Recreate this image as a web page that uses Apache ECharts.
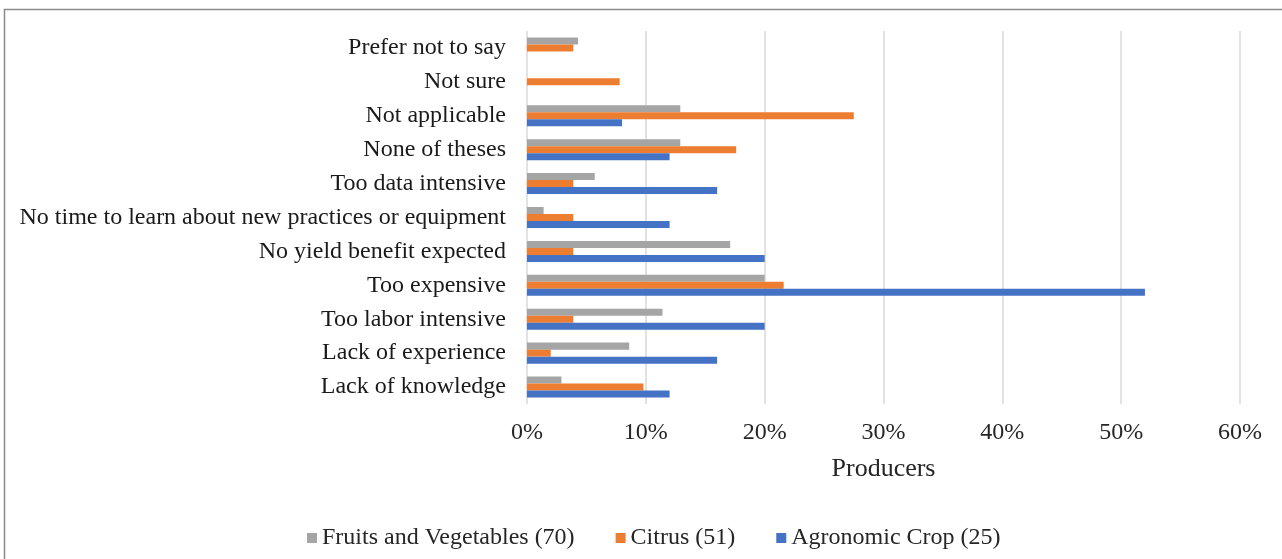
<!DOCTYPE html>
<html>
<head>
<meta charset="utf-8">
<script src="https://cdn.jsdelivr.net/npm/echarts@6/dist/echarts.min.js"></script>
<style>
  html, body { margin: 0; padding: 0; background: #fff; }
  #chart { width: 1282px; height: 559px; }
</style>
</head>
<body>
<div id="chart"></div>
<script>
// Reasons for not adopting, listed top to bottom
const categories = [
  'Prefer not to say',
  'Not sure',
  'Not applicable',
  'None of theses',
  'Too data intensive',
  'No time to learn about new practices or equipment',
  'No yield benefit expected',
  'Too expensive',
  'Too labor intensive',
  'Lack of experience',
  'Lack of knowledge'
];

// Share of producers (%) per group, same order as categories
const fruitsVegetables = [4.3, 0, 12.9, 12.9, 5.7, 1.4, 17.1, 20.0, 11.4, 8.6, 2.9];
const citrus           = [3.9, 7.8, 27.5, 17.6, 3.9, 3.9, 3.9, 21.6, 3.9, 2.0, 9.8];
const agronomicCrop    = [0, 0, 8, 12, 16, 12, 20, 52, 20, 16, 12];

const seriesNames = ['Fruits and Vegetables (70)', 'Citrus (51)', 'Agronomic Crop (25)'];
const xTicks = [0, 10, 20, 30, 40, 50, 60];

const FONT = '"Liberation Serif", "Times New Roman", serif';
const colors = ['#A5A5A5', '#ED7D31', '#4472C4'];

const chart = echarts.init(document.getElementById('chart'), null, { renderer: 'canvas' });

chart.setOption({
  animation: false,
  backgroundColor: '#fff',
  textStyle: { fontFamily: FONT },
  graphic: [{
    type: 'rect',
    left: 2, top: 7,
    shape: { width: 1290, height: 560 },
    style: { fill: 'none', stroke: '#8a8a8a', lineWidth: 1.5 },
    silent: true
  }],
  grid: { left: 527, right: 42, top: 31, bottom: 155, containLabel: false },
  legend: {
    data: seriesNames,
    top: 521,
    left: 302,
    itemWidth: 10,
    itemHeight: 10,
    itemGap: 41,
    icon: 'rect',
    textStyle: { fontFamily: FONT, fontSize: 24, color: '#262626' }
  },
  xAxis: {
    type: 'value',
    min: xTicks[0],
    max: xTicks[xTicks.length - 1],
    interval: xTicks[1] - xTicks[0],
    name: 'Producers',
    nameLocation: 'middle',
    nameGap: 52,
    nameTextStyle: { fontFamily: FONT, fontSize: 26, color: '#262626' },
    axisLine: { show: false },
    axisTick: { show: false },
    axisLabel: {
      fontFamily: FONT, fontSize: 24, color: '#262626', margin: 17,
      formatter: v => v + '%'
    },
    splitLine: { show: true, lineStyle: { color: '#D9D9D9', width: 1.5 } }
  },
  yAxis: {
    type: 'category',
    data: categories,
    inverse: true,
    axisLine: { show: false },
    axisTick: { show: false },
    axisLabel: { fontFamily: FONT, fontSize: 24, color: '#1a1a1a', margin: 21 }
  },
  series: [
    { name: seriesNames[0], type: 'bar', data: fruitsVegetables, itemStyle: { color: colors[0] }, barGap: '0%', barCategoryGap: '38%' },
    { name: seriesNames[1], type: 'bar', data: citrus, itemStyle: { color: colors[1] }, barGap: '0%', barCategoryGap: '38%' },
    { name: seriesNames[2], type: 'bar', data: agronomicCrop, itemStyle: { color: colors[2] }, barGap: '0%', barCategoryGap: '38%' }
  ]
});
</script>
</body>
</html>
